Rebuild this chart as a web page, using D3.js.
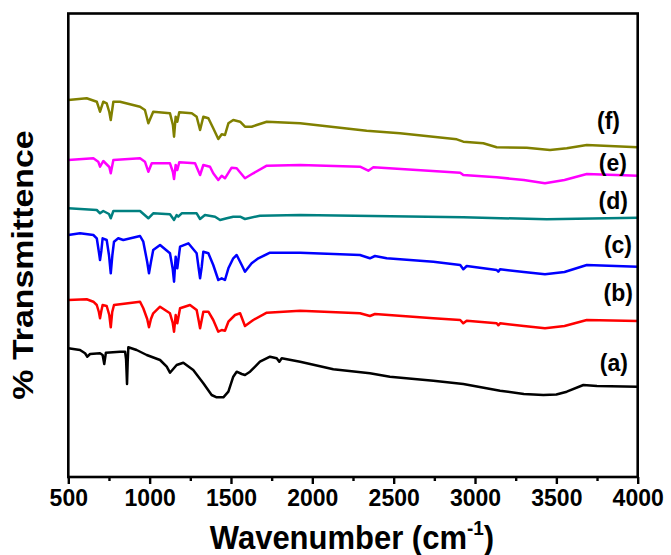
<!DOCTYPE html>
<html>
<head>
<meta charset="utf-8">
<script src="https://cdn.jsdelivr.net/npm/d3@7"></script>
<style>
  html, body { margin: 0; padding: 0; background: #fff; }
  svg { display: block; }
  text { font-family: Arial, "Liberation Sans", sans-serif; font-weight: bold; fill: #000; }
</style>
</head>
<body>
<svg id="chart" width="671" height="555"></svg>
<script>
// ---- Data (wavenumber cm-1, transmittance in arbitrary units, offset per trace) ----
const xTicks = [500, 1000, 1500, 2000, 2500, 3000, 3500, 4000];
const xMinorTicks = [750, 1250, 1750, 2250, 2750, 3250, 3750];
const seriesLabels = ["(a)", "(b)", "(c)", "(d)", "(e)", "(f)"];
const seriesColors = ["#000000", "#ff0000", "#0000ff", "#008080", "#ff00ff", "#808000"];

const seriesA = [
  [500,128.7],[572,127],[603,123.7],[617,120.3],[634,123],[695,123.7],[711,122],[721,113],[731,124.3],
  [818,125.3],[849,125.3],[855,118],[861,93],[865,115],[869,129.7],[920,127],[982,122],[1064,117],[1105,110.3],
  [1125,104.3],[1166,112],[1207,114.3],[1268,107],[1330,93.7],[1381,82],[1412,79.7],[1453,79.7],
  [1484,85.3],[1514,100.3],[1535,105.3],[1566,103],[1586,102],[1617,105.3],[1678,115.3],[1740,120.3],
  [1781,118.7],[1797,115.3],[1812,118.7],[1925,115.3],[2129,107.7],[2354,103.7],[2477,100.3],
  [2744,96.3],[2928,93],[3154,86.3],[3300,83],[3420,82],[3500,82.5],[3564,85.3],[3666,92],[3750,91],[4000,90.3]
];
const seriesB = [
  [500,177],[613,177.7],[654,175.3],[675,172],[688,165],[695,158.7],[703,166],[711,172],[736,171],[752,162],[761,149.7],[770,165],
  [781,172],[941,175.3],[961,168.7],[985,158],[996,149.7],[1008,158],[1022,163.7],[1064,170.3],[1125,163.7],[1142,154],[1150,145.3],
  [1160,162],[1170,153.7],[1187,168.7],[1248,172],[1289,167],[1302,156],[1310,148.7],[1320,157],[1330,165.3],[1361,165.3],[1391,157],
  [1422,145.3],[1443,147],[1463,146.3],[1484,155.3],[1525,162],[1556,163.7],[1586,151],[1637,157],
  [1720,164.3],[1925,166.3],[2293,163.7],[2354,161],[2385,163],[2744,158.7],[2909,157],[2928,153.7],
  [2949,156.3],[3133,153.7],[3143,151.7],[3154,153.7],[3300,151],[3430,148.7],[3550,151],[3687,157],[4000,156]
];
const seriesC = [
  [500,242],[572,243.7],[654,242],[675,238.7],[688,225],[695,217],[703,226],[711,238.7],[736,237],[750,222],[761,203.7],[771,222],
  [781,235.3],[807,238.7],[838,237],[941,241],[961,235.3],[985,215],[996,203.7],[1008,215],[1022,227],[1064,232],[1125,223.7],
  [1142,208],[1150,195.3],[1160,220.3],[1170,208.7],[1187,230.3],[1238,233.7],[1289,223.7],[1302,208],[1310,198.7],[1320,210],
  [1330,225.3],[1361,223.7],[1391,212],[1422,197],[1443,198.7],[1463,197],[1484,208.7],[1514,218.7],
  [1535,222],[1566,212],[1586,205.3],[1627,213.7],[1668,218.7],[1740,224.3],[1925,224.3],[2293,222],
  [2354,218.7],[2385,221],[2457,218.7],[2744,215.3],[2909,212],[2928,207.7],[2949,211],[3133,207],
  [3143,205.3],[3154,207.7],[3300,205],[3430,202.7],[3550,205],[3687,212],[4000,210.3]
];
const seriesD = [
  [500,268.7],[675,267],[695,263.7],[715,266],[750,263],[761,258.7],[777,266],[941,266],[992,258.7],[1022,263.7],
  [1125,262.7],[1150,257],[1166,262],[1176,260.3],[1197,263.7],[1289,263.7],[1310,258],[1340,262],
  [1402,260.3],[1433,257],[1474,258.7],[1514,260.3],[1556,260.3],[1586,258],[1678,261.3],[1925,262],
  [2928,259.7],[3441,257.7],[4000,259.3]
];
const seriesE = [
  [500,317],[654,318.7],[684,315.3],[695,310.3],[715,316],[752,310],[761,303.7],[777,317],[941,318.7],[971,315.3],
  [992,305.3],[1013,313.7],[1125,313.7],[1143,305],[1150,298],[1160,312],[1170,307],[1182,314.7],[1279,313.7],
  [1310,302],[1330,312],[1371,310.3],[1391,303.7],[1422,297],[1443,301.3],[1463,298.7],[1504,309.3],
  [1535,308.7],[1586,298.7],[1637,303.7],[1720,311.3],[1925,312],[2293,310.3],[2344,306.3],[2375,309.7],
  [2909,304.3],[2928,302],[3133,299.7],[3300,297],[3430,293.7],[3550,297],[3687,303],[4000,301.3]
];
const seriesF = [
  [500,377],[613,378.7],[675,375.3],[695,365.3],[715,375.3],[736,373.7],[752,365],[761,357],[777,375.3],[818,375.3],
  [941,370.3],[971,367],[992,353.7],[1022,365.3],[1125,363.7],[1143,352],[1150,340.3],[1160,360.3],[1170,355.3],
  [1182,364.7],[1259,363.7],[1289,360.3],[1310,347],[1330,360.3],[1361,358.7],[1391,348.7],[1422,338],
  [1443,342.7],[1463,342],[1484,353.7],[1514,357],[1556,355.3],[1586,350.3],[1627,350.3],[1720,355.3],
  [1925,353.7],[2334,346.3],[2539,343.7],[2888,337.7],[2928,335.3],[3051,333.7],[3133,329.7],[3318,329.3],
  [3461,327],[3564,328.7],[3687,332],[4000,329.7]
];
const allSeries = [seriesA, seriesB, seriesC, seriesD, seriesE, seriesF];
// label anchor positions in data units (wavenumber of label right edge, level)
const labelWn = [3940, 3971, 3965, 3940, 3934, 3891];
const labelLevel = [112, 182, 230, 274, 312, 354];

// ---- Layout ----
const margin = { left: 68.3, right: 671 - 637.7, top: 13.5, bottom: 555 - 477 };
const W = 671, H = 555;
const svg = d3.select("#chart");

const x = d3.scaleLinear().domain([500, 4000]).range([margin.left, W - margin.right]);
const y = d3.scaleLinear().domain([0, 463.5]).range([H - margin.bottom, margin.top]);

// curves
const line = d3.line().x(d => x(d[0])).y(d => y(d[1]));
svg.append("g").selectAll("path").data(allSeries).join("path")
  .attr("d", line)
  .attr("fill", "none")
  .attr("stroke", (d, i) => seriesColors[i])
  .attr("stroke-width", 2.5)
  .attr("stroke-linejoin", "round");

// frame
svg.append("rect")
  .attr("x", x(500)).attr("y", y(463.5))
  .attr("width", x(4000) - x(500)).attr("height", y(0) - y(463.5))
  .attr("fill", "none").attr("stroke", "#000").attr("stroke-width", 2.6);

// bottom axis
const xAxis = d3.axisBottom(x).tickValues(xTicks).tickSize(7).tickPadding(6).tickFormat(d3.format("d"));
const gx = svg.append("g").attr("transform", `translate(0,${y(0)})`).call(xAxis);
gx.select(".domain").remove();
gx.selectAll(".tick line").attr("stroke", "#000").attr("stroke-width", 2.4);
gx.selectAll(".tick text")
  .style("font-size", "23px").style("font-family", "Arial, 'Liberation Sans', sans-serif")
  .style("font-weight", "bold").attr("fill", "#000");

const xMinor = d3.axisBottom(x).tickValues(xMinorTicks).tickSize(4).tickFormat("");
const gm = svg.append("g").attr("transform", `translate(0,${y(0)})`).call(xMinor);
gm.select(".domain").remove();
gm.selectAll(".tick line").attr("stroke", "#000").attr("stroke-width", 2.4);

// axis titles
const xt = svg.append("text")
  .attr("transform", `translate(352,549) scale(1,1.08)`)
  .attr("text-anchor", "middle")
  .style("font-size", "31px");
xt.append("tspan").text("Wavenumber (cm");
xt.append("tspan").text("-1").style("font-size", "19px").attr("dy", -13);
xt.append("tspan").text(")").attr("dy", 13);

svg.append("text")
  .attr("transform", `translate(33,265) rotate(-90) scale(1.13,1)`)
  .attr("text-anchor", "middle")
  .style("font-size", "30px")
  .text("% Transmittence");

// series labels
svg.append("g").selectAll("text").data(seriesLabels).join("text")
  .attr("x", (d, i) => x(labelWn[i]))
  .attr("y", (d, i) => y(labelLevel[i]))
  .attr("text-anchor", "end")
  .attr("dominant-baseline", "middle")
  .style("font-size", "23px")
  .text(d => d);
</script>
</body>
</html>
